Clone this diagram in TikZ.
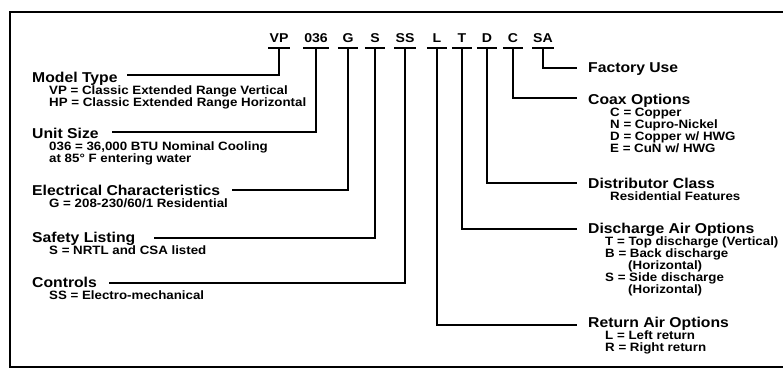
\documentclass[tikz,border=0pt]{standalone}
\usepackage{fontspec}
\setmainfont{Liberation Sans}[FakeStretch=1.1]
\begin{document}
\begin{tikzpicture}[x=1pt,y=-1pt,
  code/.style={font=\fontsize{12.8}{14}\selectfont\bfseries, inner xsep=1pt, inner ysep=6pt, minimum width=20pt, text depth=0pt, anchor=base},
  hd/.style={font=\fontsize{14.3}{16}\selectfont\bfseries, inner sep=0pt, anchor=base west},
  sb/.style={font=\fontsize{12.1}{13}\selectfont\bfseries, inner sep=0pt, anchor=base west},
  wire/.style={line width=1.6pt},
  uline/.style={line width=1.8pt},
]
\useasboundingbox (0,0) rectangle (783,381);
% frame
\draw[wire] (783,12) -- (10,12) -- (10,367) -- (783,367);

% code letters
\node[code] (vp) at (279,42) {VP};
\node[code] (sz) at (316,42) {036};
\node[code] (g) at (348,42) {G};
\node[code] (s) at (375,42) {S};
\node[code] (ss) at (405,42) {SS};
\node[code] (l) at (437,42) {L};
\node[code] (t) at (462,42) {T};
\node[code] (d) at (487,42) {D};
\node[code] (c) at (513,42) {C};
\node[code] (sa) at (543,42) {SA};
\foreach \n in {vp,sz,g,s,ss,l,t,d,c,sa}
  \draw[uline] (\n.south west) -- (\n.south east);

% left labels
\node[hd] (mt) at (32,82) {Model Type};
\node[sb] (mt1) at (49,94) {VP = Classic Extended Range Vertical};
\node[sb] (mt2) at (49,106) {HP = Classic Extended Range Horizontal};
\node[hd] (us) at (32,138) {Unit Size};
\node[sb] (us1) at (49,150) {036 = 36,000 BTU Nominal Cooling};
\node[sb] (us2) at (49,162) {at 85° F entering water};
\node[hd] (ec) at (32,195) {Electrical Characteristics};
\node[sb] (ec1) at (49,207) {G = 208-230/60/1 Residential};
\node[hd] (sl) at (32,242) {Safety Listing};
\node[sb] (sl1) at (49,254) {S = NRTL and CSA listed};
\node[hd] (ct) at (32,287) {Controls};
\node[sb] (ct1) at (49,299) {SS = Electro-mechanical};

% right labels
\node[hd] (fu) at (588,72) {Factory Use};
\node[hd] (co) at (588,104) {Coax Options};
\node[sb] (co1) at (610,116) {C = Copper};
\node[sb] (co2) at (610,128) {N = Cupro-Nickel};
\node[sb] (co3) at (610,140) {D = Copper w/ HWG};
\node[sb] (co4) at (610,152) {E = CuN w/ HWG};
\node[hd] (dc) at (588,188) {Distributor Class};
\node[sb] (dc1) at (610,200) {Residential Features};
\node[hd] (da) at (588,233) {Discharge Air Options};
\node[sb] (da1) at (605,245) {T = Top discharge (Vertical)};
\node[sb] (da2) at (605,257) {B = Back discharge};
\node[sb] (da3) at (628,269) {(Horizontal)};
\node[sb] (da4) at (605,281) {S = Side discharge};
\node[sb] (da5) at (628,293) {(Horizontal)};
\node[hd] (ra) at (588,327) {Return Air Options};
\node[sb] (ra1) at (605,339) {L = Left return};
\node[sb] (ra2) at (605,351) {R = Right return};

% connector ends
\coordinate (mtw) at (127,75);
\coordinate (usw) at (112,132);
\coordinate (ecw) at (232,190);
\coordinate (slw) at (154,238);
\coordinate (ctw) at (109,283);
\coordinate (fuw) at (577,68);
\coordinate (cow) at (577,98);
\coordinate (dcw) at (577,183);
\coordinate (daw) at (577,229);
\coordinate (raw) at (577,325);

% connectors
\draw[wire] (vp.south) |- (mtw);
\draw[wire] (sz.south) |- (usw);
\draw[wire] (g.south) |- (ecw);
\draw[wire] (s.south) |- (slw);
\draw[wire] (ss.south) |- (ctw);
\draw[wire] (l.south) |- (raw);
\draw[wire] (t.south) |- (daw);
\draw[wire] (d.south) |- (dcw);
\draw[wire] (c.south) |- (cow);
\draw[wire] (sa.south) |- (fuw);
\end{tikzpicture}
\end{document}
